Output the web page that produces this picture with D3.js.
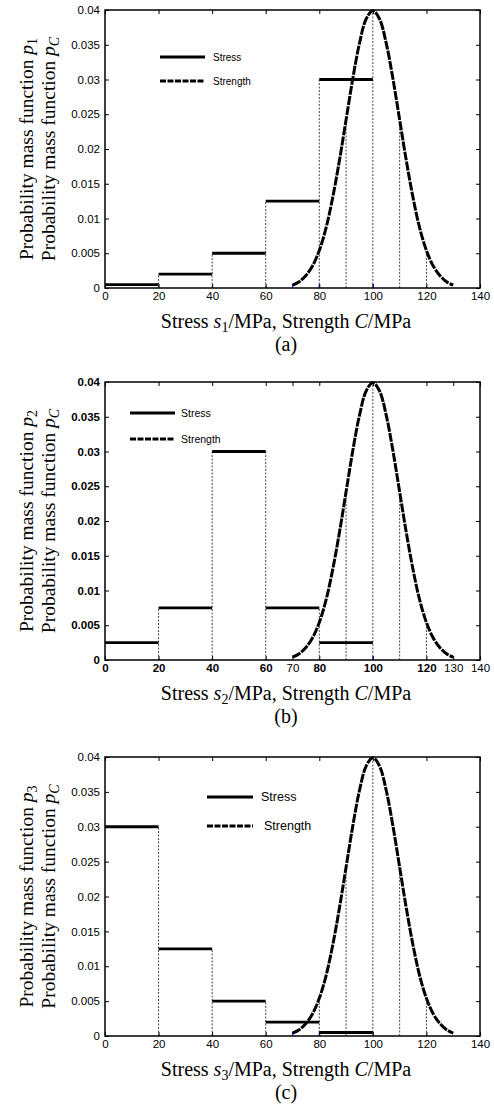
<!DOCTYPE html>
<html>
<head>
<meta charset="utf-8">
<script src="https://cdn.jsdelivr.net/npm/d3@7"></script>
<style>
  body { margin: 0; background: #fff; }
  svg { display: block; }
</style>
</head>
<body>
<svg id="fig"></svg>
<script>
// ---- data ----
const binEdges = [0, 20, 40, 60, 80, 100];
const stress1 = [0.0005, 0.002, 0.005, 0.0125, 0.03];
const stress2 = [0.0025, 0.0075, 0.03, 0.0075, 0.0025];
const stress3 = [0.03, 0.0125, 0.005, 0.002, 0.0005];

const strengthX = [70, 72.5, 75, 77.5, 80, 82.5, 85, 87.5, 90, 92.5, 95, 97.5, 100,
                   102.5, 105, 107.5, 110, 112.5, 115, 117.5, 120, 122.5, 125, 127.5, 130];
const strengthP = [0.0004, 0.0009, 0.0018, 0.0032, 0.0054, 0.0086, 0.0130, 0.0183, 0.0242,
                   0.0301, 0.0352, 0.0387, 0.0399, 0.0387, 0.0352, 0.0301, 0.0242, 0.0183,
                   0.0130, 0.0086, 0.0054, 0.0032, 0.0018, 0.0009, 0.0004];

const guideX = [20, 40, 60, 80, 90, 100, 110, 120];

const yTicks = [0, 0.005, 0.01, 0.015, 0.02, 0.025, 0.03, 0.035, 0.04];
const yTickLabels = ['0', '0.005', '0.01', '0.015', '0.02', '0.025', '0.03', '0.035', '0.04'];
const xTicksAC = [0, 20, 40, 60, 80, 100, 120, 140];
const xTicksB = [0, 20, 40, 60, 70, 80, 100, 120, 130, 140];
const xTicksBLight = [70, 130, 140];

const legendLabels = ['Stress', 'Strength'];
const blueA = [70, 80, 100], blueB = [100], blueC = [70, 80];

const W = 494, H = 1107;
const svg = d3.select('#fig').attr('width', W).attr('height', H);

const panels = [
  { tag: '(a)', sub: '1', top: 10, bottom: 288, stress: stress1, xTicks: xTicksAC, bold: false, blue: blueA,
    leg: { x1: 160, x2: 205, y: [57, 81], tx: 213, fs: 10 } },
  { tag: '(b)', sub: '2', top: 382, bottom: 660, stress: stress2, xTicks: xTicksB, bold: true, blue: blueB,
    leg: { x1: 130, x2: 175, y: [413, 439], tx: 181, fs: 10.5 } },
  { tag: '(c)', sub: '3', top: 757, bottom: 1036, stress: stress3, xTicks: xTicksAC, bold: false, blue: blueC,
    leg: { x1: 207, x2: 253, y: [797, 826], tx: 261, fs: 12.5 } }
];

const left = 105, right = 480;
const serif = '"Liberation Serif", "Times New Roman", serif';
const sans = '"Liberation Sans", Arial, sans-serif';

function curveAt(x) {
  const i = strengthX.indexOf(x);
  return i < 0 ? 0 : strengthP[i];
}

panels.forEach(p => {
  const g = svg.append('g');
  const x = d3.scaleLinear().domain([0, 140]).range([left, right]);
  const y = d3.scaleLinear().domain([0, 0.04]).range([p.bottom, p.top]);

  // dotted guide lines
  const guides = guideX.map(v => {
    let top = curveAt(v);
    binEdges.forEach((e, i) => {
      if (i < p.stress.length && (e === v || binEdges[i + 1] === v)) top = Math.max(top, p.stress[i]);
    });
    return { v, top };
  });
  g.selectAll('line.guide').data(guides).join('line')
    .attr('class', 'guide')
    .attr('x1', d => x(d.v)).attr('x2', d => x(d.v))
    .attr('y1', y(0)).attr('y2', d => y(d.top))
    .attr('stroke', '#333').attr('stroke-width', 0.9)
    .attr('stroke-dasharray', '2,1.5');

  // small blue marks at the base
  g.selectAll('line.blue').data(p.blue).join('line')
    .attr('x1', d => x(d)).attr('x2', d => x(d))
    .attr('y1', y(0)).attr('y2', y(0) - 4)
    .attr('stroke', '#1a1aff').attr('stroke-width', 1);

  // stress steps
  g.selectAll('line.bar').data(p.stress).join('line')
    .attr('x1', (d, i) => x(binEdges[i])).attr('x2', (d, i) => x(binEdges[i + 1]))
    .attr('y1', d => y(d)).attr('y2', d => y(d))
    .attr('stroke', '#000').attr('stroke-width', 2.8);

  // strength curve
  const line = d3.line().x(d => x(d[0])).y(d => y(d[1])).curve(d3.curveCatmullRom);
  g.append('path')
    .datum(strengthX.map((v, i) => [v, strengthP[i]]))
    .attr('d', line)
    .attr('fill', 'none').attr('stroke', '#000').attr('stroke-width', 3)
    .attr('stroke-dasharray', '9,1.2');

  // box and ticks
  g.append('rect').attr('x', left).attr('y', p.top)
    .attr('width', right - left).attr('height', p.bottom - p.top)
    .attr('fill', 'none').attr('stroke', '#000').attr('stroke-width', 1.5);

  const weight = p.bold ? 'bold' : 'normal';
  g.append('g').attr('transform', `translate(0,${p.bottom})`)
    .call(d3.axisBottom(x).tickValues(p.xTicks).tickSize(-4).tickPadding(4).tickSizeOuter(0))
    .call(a => a.select('.domain').remove())
    .call(a => a.selectAll('text').attr('font-family', sans).attr('font-size', 11.5)
      .attr('fill', '#000')
      .attr('font-weight', d => (p.bold && !xTicksBLight.includes(d)) ? 'bold' : 'normal'));
  g.append('g').attr('transform', `translate(0,${p.top})`)
    .call(d3.axisTop(x).tickValues(p.xTicks).tickSize(-4).tickFormat('').tickSizeOuter(0))
    .call(a => a.select('.domain').remove());
  g.append('g').attr('transform', `translate(${left},0)`)
    .call(d3.axisLeft(y).tickValues(yTicks).tickFormat((d, i) => yTickLabels[i])
      .tickSize(-4).tickPadding(5).tickSizeOuter(0))
    .call(a => a.select('.domain').remove())
    .call(a => a.selectAll('text').attr('font-family', sans).attr('font-size', 11.5)
      .attr('fill', '#000').attr('font-weight', weight));
  g.append('g').attr('transform', `translate(${right},0)`)
    .call(d3.axisRight(y).tickValues(yTicks).tickSize(-4).tickFormat('').tickSizeOuter(0))
    .call(a => a.select('.domain').remove());
  g.selectAll('.tick line').attr('stroke', '#000').attr('stroke-width', 1);

  // legend
  p.leg.y.forEach((ly, i) => {
    g.append('line').attr('x1', p.leg.x1).attr('x2', p.leg.x2).attr('y1', ly).attr('y2', ly)
      .attr('stroke', '#000').attr('stroke-width', 3)
      .attr('stroke-dasharray', i === 1 ? '6,1.5' : null);
    g.append('text').attr('x', p.leg.tx + (i === 1 && p.tag === '(c)' ? 3 : 0)).attr('y', ly)
      .attr('dy', '0.35em').attr('font-family', sans).attr('font-size', p.leg.fs)
      .text(legendLabels[i]);
  });

  // y label (two lines)
  const cy = (p.top + p.bottom) / 2;
  [[33, p.sub, false], [55, 'C', true]].forEach(([bx, s, ital]) => {
    const t = g.append('text')
      .attr('transform', `translate(${bx},${cy}) rotate(-90)`)
      .attr('text-anchor', 'middle').attr('font-family', serif).attr('font-size', 19.5);
    t.append('tspan').text('Probability mass function ');
    t.append('tspan').attr('font-style', 'italic').text('p');
    t.append('tspan').attr('font-size', 14).attr('dy', 4)
      .attr('font-style', ital ? 'italic' : 'normal').text(s);
  });

  // x title and panel tag
  const xt = g.append('text').attr('x', 286).attr('y', p.bottom + 40)
    .attr('text-anchor', 'middle').attr('font-family', serif).attr('font-size', 20);
  xt.append('tspan').text('Stress ');
  xt.append('tspan').attr('font-style', 'italic').text('s');
  xt.append('tspan').attr('font-size', 14).attr('dy', 4).text(p.sub);
  xt.append('tspan').attr('dy', -4).text('/MPa, Strength ');
  xt.append('tspan').attr('font-style', 'italic').text('C');
  xt.append('tspan').text('/MPa');

  g.append('text').attr('x', 286).attr('y', p.bottom + 63)
    .attr('text-anchor', 'middle').attr('font-family', serif).attr('font-size', 20)
    .text(p.tag);
});
</script>
</body>
</html>
